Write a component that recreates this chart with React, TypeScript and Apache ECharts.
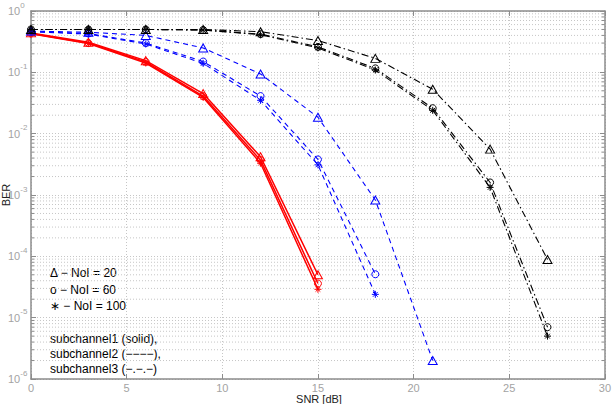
import React, { useEffect, useRef } from "react";
import * as echarts from "echarts";

// SNR points (dB) shared by every curve
const snrDb = [0, 3, 6, 9, 12, 15, 18, 21, 24, 27];

// subchannel 1 (solid, red)
const sc1Noi20 = [0.44, 0.31, 0.155, 0.045, 0.0042, 5.0e-5];
const sc1Noi60 = [0.43, 0.3, 0.148, 0.041, 0.0037, 3.6e-5];
const sc1Noi100 = [0.425, 0.295, 0.142, 0.039, 0.0033, 2.9e-5];

// subchannel 2 (dashed, blue)
const sc2Noi20 = [0.47, 0.45, 0.4, 0.25, 0.094, 0.0185, 8.3e-4, 2.0e-6];
const sc2Noi60 = [0.46, 0.43, 0.3, 0.15, 0.041, 0.0038, 5.1e-5];
const sc2Noi100 = [0.46, 0.42, 0.29, 0.14, 0.035, 0.0031, 2.4e-5];

// subchannel 3 (dash-dot, black)
const sc3Noi20 = [0.5, 0.5, 0.5, 0.5, 0.46, 0.33, 0.169, 0.053, 0.0056, 8.9e-5];
const sc3Noi60 = [0.5, 0.5, 0.5, 0.49, 0.42, 0.26, 0.116, 0.026, 0.0016, 7.0e-6];
const sc3Noi100 = [0.5, 0.5, 0.5, 0.49, 0.41, 0.25, 0.109, 0.024, 0.00133, 5.0e-6];

// log-axis structure: decades and the minor multipliers inside each decade
const yDecades = [-6, -5, -4, -3, -2, -1];
const minorSteps = [2, 3, 4, 5, 6, 7, 8, 9];

const legendLines = ["\u0394 \u2212 NoI = 20", "\u03bf \u2212 NoI = 60", "\u2217 \u2212 NoI = 100"];
const channelLines = [
  "subchannel1 (solid),",
  "subchannel2 (\u2212\u2212\u2212\u2212),",
  "subchannel3 (\u2212.\u2212.\u2212)",
];

const AXIS_GRAY = "#8c8c8c";
const LABEL_GRAY = "#a3a3a3";
const GRID_GRAY = "#c6c6c6";
const FONT = "'Liberation Sans', Arial, sans-serif";

const RED = "#ff0000";
const BLUE = "#0000ff";
const BLACK = "#000000";

const DASHED = [5, 4];
const DASH_DOT = [7, 3, 1.5, 3];

const TRIANGLE = "triangle";
const CIRCLE = "circle";
const ASTERISK = "path://M5,0L5,10M0,5L10,5M1.6,1.6L8.4,8.4M1.6,8.4L8.4,1.6";

function curve(
  name: string,
  values: number[],
  color: string,
  dash: any,
  width: number,
  symbol: string,
  size: number | number[]
) {
  return {
    type: "line",
    name,
    data: values.map((v, i) => [snrDb[i], v]),
    xAxisIndex: 0,
    yAxisIndex: 0,
    symbol,
    symbolSize: size,
    showSymbol: true,
    lineStyle: { color, width, type: dash },
    itemStyle: { color: "transparent", borderColor: color, borderWidth: 1 },
    emphasis: { disabled: true },
    silent: true,
    z: 3,
  };
}

export default function App() {
  const ref = useRef<HTMLDivElement>(null);

  useEffect(() => {
    if (!ref.current) return;
    const chart = echarts.init(ref.current, undefined, { renderer: "svg" });

    const minorValues: number[][] = [];
    yDecades.forEach((d) => minorSteps.forEach((k) => minorValues.push([0, k * Math.pow(10, d)])));

    const option: any = {
      animation: false,
      textStyle: { fontFamily: FONT },
      grid: { left: 31, right: 7, top: 11, bottom: 25, containLabel: false },
      xAxis: [
        {
          type: "value",
          min: 0,
          max: 30,
          interval: 5,
          position: "bottom",
          axisLine: { show: true, lineStyle: { color: AXIS_GRAY, width: 1.5 } },
          axisTick: { show: true, inside: true, length: 5, lineStyle: { color: AXIS_GRAY } },
          axisLabel: { color: LABEL_GRAY, fontSize: 11, lineHeight: 11, margin: 3, fontFamily: FONT },
          splitLine: { show: true, lineStyle: { color: GRID_GRAY, type: [1, 2], width: 1 } },
        },
        {
          type: "value",
          min: 0,
          max: 30,
          interval: 5,
          position: "top",
          axisLine: { show: true, onZero: false, lineStyle: { color: AXIS_GRAY, width: 1.5 } },
          axisTick: { show: true, inside: true, length: 5, lineStyle: { color: AXIS_GRAY } },
          axisLabel: { show: false },
          splitLine: { show: false },
        },
      ],
      yAxis: [
        {
          type: "log",
          logBase: 10,
          min: 1e-6,
          max: 1,
          splitNumber: 6,
          position: "left",
          axisLine: { show: true, onZero: false, lineStyle: { color: AXIS_GRAY, width: 1.5 } },
          axisTick: { show: true, inside: true, length: 5, lineStyle: { color: AXIS_GRAY } },
          axisLabel: {
            align: "left",
            margin: 23,
            formatter: (v: number) => `{b|10}{e|${Math.round(Math.log10(v))}}`,
            rich: {
              b: { fontSize: 11, color: LABEL_GRAY, fontFamily: FONT },
              e: { fontSize: 8, color: LABEL_GRAY, fontFamily: FONT, padding: [0, 0, 12, 0] },
            },
          },
          splitLine: { show: true, lineStyle: { color: GRID_GRAY, type: [1, 2], width: 1 } },
        },
        {
          type: "log",
          logBase: 10,
          min: 1e-6,
          max: 1,
          splitNumber: 6,
          position: "right",
          axisLine: { show: true, onZero: false, lineStyle: { color: AXIS_GRAY, width: 1.5 } },
          axisTick: { show: true, inside: true, length: 5, lineStyle: { color: AXIS_GRAY } },
          axisLabel: { show: false },
          splitLine: { show: false },
        },
      ],
      graphic: [
        ...legendLines.map((t, i) => ({
          type: "text",
          x: 50,
          y: [273, 289.5, 306][i],
          silent: true,
          style: { text: t, fontSize: 12, fontFamily: FONT, fill: "#000", textVerticalAlign: "middle" },
        })),
        ...channelLines.map((t, i) => ({
          type: "text",
          x: 50,
          y: [339, 354, 368.5][i],
          silent: true,
          style: { text: t, fontSize: 12, fontFamily: FONT, fill: "#000", textVerticalAlign: "middle" },
        })),
        {
          type: "text",
          x: 319,
          y: 398.5,
          silent: true,
          style: {
            text: "SNR [dB]",
            fontSize: 11,
            lineHeight: 11,
            fontFamily: FONT,
            fill: "#222",
            textAlign: "center",
            textVerticalAlign: "middle",
          },
        },
        {
          type: "text",
          x: 6,
          y: 195,
          rotation: Math.PI / 2,
          silent: true,
          style: {
            text: "BER",
            fontSize: 11,
            fontFamily: FONT,
            fill: "#222",
            textAlign: "center",
            textVerticalAlign: "middle",
          },
        },
      ],
      series: [
        {
          // minor decade gridlines (2..9 x 10^n) with inward ticks on both sides
          type: "custom",
          xAxisIndex: 0,
          yAxisIndex: 0,
          silent: true,
          z: 1,
          data: minorValues,
          renderItem: (params: any, api: any) => {
            const v = api.value(1);
            const a = api.coord([0, v]);
            const b = api.coord([30, v]);
            return {
              type: "group",
              children: [
                {
                  type: "line",
                  shape: { x1: a[0], y1: a[1], x2: b[0], y2: b[1] },
                  style: { stroke: GRID_GRAY, lineWidth: 1, lineDash: [1, 2] },
                },
                {
                  type: "line",
                  shape: { x1: a[0], y1: a[1], x2: a[0] + 3, y2: a[1] },
                  style: { stroke: AXIS_GRAY, lineWidth: 1 },
                },
                {
                  type: "line",
                  shape: { x1: b[0] - 3, y1: b[1], x2: b[0], y2: b[1] },
                  style: { stroke: AXIS_GRAY, lineWidth: 1 },
                },
              ],
            };
          },
        },
        curve("sc1 NoI=20", sc1Noi20, RED, "solid", 1.5, TRIANGLE, [9, 8]),
        curve("sc1 NoI=60", sc1Noi60, RED, "solid", 1.5, CIRCLE, 7),
        curve("sc1 NoI=100", sc1Noi100, RED, "solid", 1.5, ASTERISK, 7),
        curve("sc2 NoI=20", sc2Noi20, BLUE, DASHED, 1.1, TRIANGLE, [9, 8]),
        curve("sc2 NoI=60", sc2Noi60, BLUE, DASHED, 1.1, CIRCLE, 7),
        curve("sc2 NoI=100", sc2Noi100, BLUE, DASHED, 1.1, ASTERISK, 7),
        curve("sc3 NoI=20", sc3Noi20, BLACK, DASH_DOT, 1.1, TRIANGLE, [9, 8]),
        curve("sc3 NoI=60", sc3Noi60, BLACK, DASH_DOT, 1.1, CIRCLE, 7),
        curve("sc3 NoI=100", sc3Noi100, BLACK, DASH_DOT, 1.1, ASTERISK, 7),
      ],
    };

    chart.setOption(option);
    return () => chart.dispose();
  }, []);

  return (
    <div
      ref={ref}
      style={{ position: "absolute", left: 0, top: 0, width: 614, height: 404 }}
    />
  );
}
